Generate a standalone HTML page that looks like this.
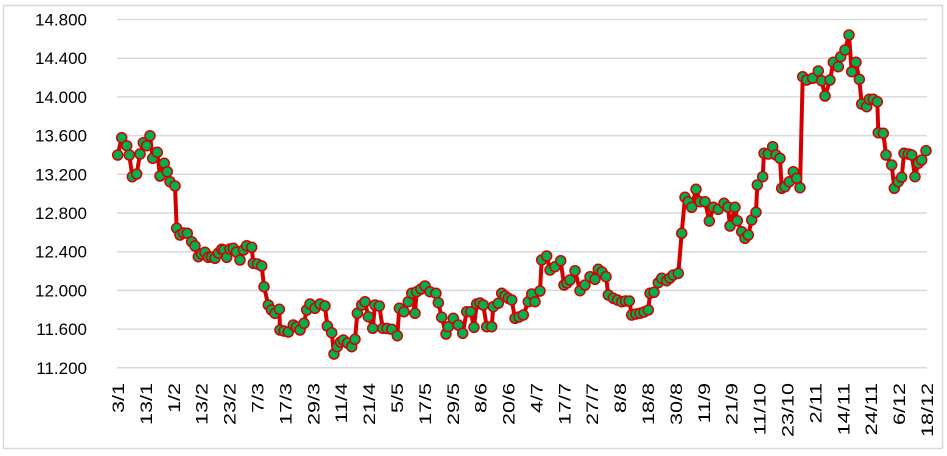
<!DOCTYPE html>
<html><head><meta charset="utf-8"><style>
html,body{margin:0;padding:0;background:#fff;}
svg{display:block;font-family:"Liberation Sans",Arial,sans-serif;}
</style></head><body>
<svg id="sv" width="947" height="456" viewBox="0 0 947 456" xmlns="http://www.w3.org/2000/svg">
<rect x="3.5" y="5.5" width="939" height="443" fill="#fff" stroke="#d9d9d9" stroke-width="1.5"/>
<g stroke="#d9d9d9" stroke-width="1.5">
<line x1="117" x2="927" y1="19.5" y2="19.5"/><line x1="117" x2="927" y1="58.2" y2="58.2"/><line x1="117" x2="927" y1="96.9" y2="96.9"/><line x1="117" x2="927" y1="135.6" y2="135.6"/><line x1="117" x2="927" y1="174.3" y2="174.3"/><line x1="117" x2="927" y1="213" y2="213"/><line x1="117" x2="927" y1="251.7" y2="251.7"/><line x1="117" x2="927" y1="290.4" y2="290.4"/><line x1="117" x2="927" y1="329.1" y2="329.1"/><line x1="117" x2="927" y1="367.8" y2="367.8"/>
</g>
<g font-size="17" fill="#000" text-anchor="end">
<text x="87" y="25.5">14.800</text><text x="87" y="64.2">14.400</text><text x="87" y="102.9">14.000</text><text x="87" y="141.6">13.600</text><text x="87" y="180.3">13.200</text><text x="87" y="219">12.800</text><text x="87" y="257.7">12.400</text><text x="87" y="296.4">12.000</text><text x="87" y="335.1">11.600</text><text x="87" y="373.8">11.200</text>
</g>
<g id="xl" font-size="17" fill="#000" text-anchor="end"></g>
<polyline id="ln" fill="none" stroke="#d40000" stroke-width="4" stroke-linejoin="round"/>
<g id="mk" fill="#00b050" stroke="#d40000" stroke-width="1.5"></g>
<script>
var NS="http://www.w3.org/2000/svg";
var P=[[117.7,155],[121.7,137.7],[126.7,145.7],[129.3,155],[132.3,176.7],[136.7,174],[140,154],[143.3,142.7],[146.7,145.7],[150,135.7],[152.7,158.3],[157.3,152.3],[160,176],[164.3,163.3],[167.3,171.7],[170,181.7],[175,186],[176.7,228.3],[180,235],[183.5,233],[187.3,233.3],[191.7,241.7],[195,246],[198.3,256.7],[201.5,254],[205,252.3],[208.3,257.3],[211.5,257],[215,258.3],[218.5,253],[221.7,249.3],[224,250],[226.7,257.3],[230,249],[233.3,248.3],[236.5,252],[240,260],[243.5,250],[246.7,245.7],[251.7,247.3],[253.3,263.3],[257.5,264],[261.7,266],[264,286.7],[268.3,305],[271.5,310],[275,313.3],[279.3,309.3],[280,330],[284,331],[288.3,332],[293.3,325],[296.5,327],[300,330],[304,323.3],[306.7,310],[310,304],[315,308.3],[320,304],[325,306],[327.3,326],[331.7,332.7],[334,354],[337.3,346.7],[340.5,342],[343.3,340],[347.5,343],[351.7,346.7],[355,339.3],[357.3,313.3],[361.7,305],[365,301.7],[368.3,316.7],[372.7,328.3],[375,305],[379.3,306],[382.7,328.3],[387,328.5],[391.7,329.3],[397.3,335.7],[399.3,308.3],[404,311.7],[408.3,301.7],[411.7,293.3],[415,313.3],[416.7,291.7],[421,289],[425,286],[430,291.7],[436,293.3],[438.3,302.7],[441.7,317.3],[446,334],[448.3,326.7],[453.3,318.3],[458.3,325],[462.7,333.3],[466.7,311.7],[470.7,311.7],[474,327.3],[476.7,304],[480,303],[483.3,305],[486.7,326.7],[491.7,326.7],[493.3,306.7],[498.3,303.3],[501.7,293.3],[505,296],[508.3,298.3],[511.7,300],[515,318.3],[519,317],[523.3,315],[528.3,301.7],[531.7,294],[535,301.7],[540,291],[541.7,260],[546.7,256],[550,270],[555,266.7],[560.7,260.7],[564,285],[567,283],[570,280],[575,270.7],[580,290.7],[585,285],[590,276.7],[595,279.3],[598.3,269.3],[602,272],[606,276.7],[608.3,295],[613.3,298.3],[617.5,300],[621.7,301.7],[625.5,301],[629.3,301],[631.7,315],[636,314],[640,313.3],[644,312],[648.3,310],[650,293.3],[654,292.3],[658.3,282.7],[661.7,278.3],[666.7,280.7],[670,278],[673.3,275],[678.3,273.3],[681.7,233.3],[685,197.3],[688.3,201.7],[691.7,207.3],[696,189.3],[700,201.7],[705,201.7],[709.3,221],[713.3,207.3],[718.3,209.3],[724,203.3],[728,207],[730,226],[735,207.3],[737.3,220.7],[741.7,231.7],[745,238.3],[748.3,235],[751.7,220],[756,212.3],[757.3,185],[762.7,176.7],[764,153.3],[768.3,154],[772.7,146.7],[776,155],[780,158.3],[781.7,188.3],[785,186.7],[789.3,181.7],[793.3,171.7],[796.7,178.3],[800,187.7],[802.7,76.7],[806.7,80],[812.7,78.3],[818.3,71],[821.7,80.7],[825,96],[830,80],[833.3,62.3],[838.3,66.7],[840.7,56.7],[845,50],[849,35],[851.7,71.7],[856,62.3],[859.3,79.3],[861.7,104],[866.7,106.7],[869.3,99.3],[873.3,99.3],[877.3,101.7],[878.3,132.7],[883.3,133.3],[886,155],[891.7,165],[894.3,188.3],[898.3,181.7],[901.7,177.3],[904,153.3],[908.3,154],[911.7,155],[915,176.7],[918.3,163.3],[921.7,160],[926,150.7]];
document.getElementById('ln').setAttribute('points',P.map(function(p){return p.join(',')}).join(' '));
var mk=document.getElementById('mk');
P.forEach(function(p){var c=document.createElementNS(NS,'circle');c.setAttribute('cx',p[0]);c.setAttribute('cy',p[1]);c.setAttribute('r','5');mk.appendChild(c);});
var L=["3/1","13/1","1/2","13/2","23/2","7/3","17/3","29/3","11/4","21/4","5/5","17/5","29/5","8/6","20/6","4/7","17/7","27/7","8/8","18/8","30/8","11/9","21/9","11/10","23/10","2/11","14/11","24/11","6/12","18/12"];
var xl=document.getElementById('xl'),n=L.length;
L.forEach(function(l,i){var x=124+i*(933-124)/(n-1);var t=document.createElementNS(NS,'text');t.setAttribute('transform','translate('+x.toFixed(1)+',383) rotate(-90) scale(1.27,1)');t.textContent=l;xl.appendChild(t);});
</script>
</svg>
</body></html>
